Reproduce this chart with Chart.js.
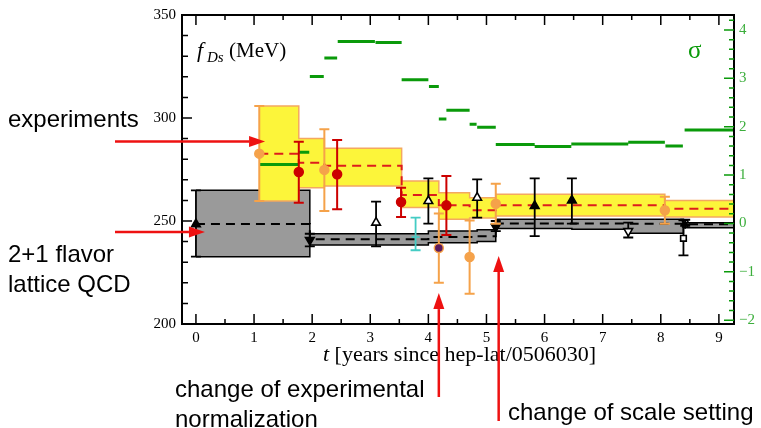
<!DOCTYPE html>
<html>
<head>
<meta charset="utf-8">
<title>f_Ds history</title>
<script src="https://cdn.jsdelivr.net/npm/chart.js@4.4.0/dist/chart.umd.min.js"></script>
<style>
  body { margin: 0; background: #fff; }
  #wrap { position: relative; width: 761px; height: 428px; }
</style>
</head>
<body>
<div id="wrap"><canvas id="myChart"></canvas></div>
<script>

// TICKS
var xTicks = [0, 1, 2, 3, 4, 5, 6, 7, 8, 9];
var yTicks = [200, 250, 300, 350];
var sigmaTicks = [-2, -1, 0, 1, 2, 3, 4];

// LATTICE AVERAGE (grey band), value on [edge_k, edge_k+1]
var latEdges = [0, 1.96, 4.0, 4.84, 5.16, 6.47, 7.44, 8.39, 9.26];
var latMid = [248.5, 241.1, 242.2, 242.6, 248.8, 248.8, 248.7, 248.4];
var latLo  = [232.7, 238.3, 239.5, 240.0, 246.3, 246.0, 244.1, 246.7];
var latHi  = [264.9, 243.8, 245.1, 245.8, 250.8, 250.8, 250.8, 249.2];

// EXPERIMENT AVERAGE (yellow band)
var expEdges = [1.09, 1.77, 2.21, 3.54, 4.18, 4.71, 5.16, 8.07, 9.26];
var expMid = [282.7, 278.3, 276.8, 262.6, 257.6, 255.2, 257.6, 256.0];
var expLo  = [259.7, 266.2, 267.0, 256.5, 250.8, 251.5, 252.4, 251.9];
var expHi  = [305.8, 290.1, 285.3, 269.4, 263.7, 261.3, 263.0, 260.0];

// tension in sigma (green bars, right axis)
var sigStart = [1.10, 1.77, 1.96, 2.21, 2.44, 3.09, 3.54, 4.01, 4.18, 4.31, 4.71, 4.84, 5.16, 5.83, 6.46, 7.44, 8.08, 8.41];
var sigEnd   = [1.77, 1.95, 2.20, 2.43, 3.08, 3.54, 4.00, 4.18, 4.31, 4.71, 4.83, 5.16, 5.83, 6.46, 7.44, 8.07, 8.38, 9.26];
var sigVal   = [1.22, 1.47, 3.04, 3.42, 3.76, 3.74, 2.97, 2.83, 2.16, 2.34, 2.05, 1.99, 1.63, 1.59, 1.64, 1.68, 1.60, 1.93];

// EXPERIMENTS (points + errors)
var expT  = [1.09, 1.77, 2.21, 2.43, 3.53, 4.18, 4.31, 4.71, 5.16, 8.07];
var expF  = [282.7, 273.8, 274.8, 272.7, 259.2, 236.9, 257.6, 232.5, 258.4, 255.2];
var expErrLo = [259.7, 258.9, 254.9, 255.7, 251.9, 220.0, 243.2, 214.7, 248.7, 248.7];
var expErrHi = [305.8, 288.5, 294.5, 289.3, 266.2, 253.7, 271.8, 250.3, 268.1, 261.8];

// LATTICE (points + errors)
var latT  = [0, 1.96, 3.10, 3.78, 4.00, 4.84, 5.16, 5.83, 6.47, 7.44, 8.39, 8.42];
var latF  = [248.5, 240.8, 249.2, 242.2, 259.7, 261.3, 247.1, 257.3, 260.0, 245.1, 241.6, 248.4];
var latErrLo = [232.7, 237.7, 237.7, 235.8, 248.7, 251.6, 245.1, 242.7, 248.7, 242.0, 233.3, 247.7];
var latErrHi = [264.9, 243.8, 259.4, 251.6, 270.7, 270.2, 250.0, 270.7, 270.7, 249.2, 250.3, 250.6];


// colours
var ORANGE = '#f5a24a', RED = '#cc0000', GREEN = '#0a9a0a', YELLOW = '#fcf53a', GREY = '#9a9a9a', CYAN = '#44ccc4';

var expColors = [ORANGE, RED, ORANGE, RED, RED, ORANGE, RED, ORANGE, ORANGE, ORANGE];
var expFill   = [ORANGE, RED, ORANGE, RED, RED, '#5b1a5e', RED, ORANGE, ORANGE, ORANGE];
var latStyles = ['triangle', 'triangle', 'triangle', 'line', 'triangle', 'triangle', 'triangle', 'triangle', 'triangle', 'triangle', 'rect', 'star'];
var latRot    = [0, 180, 0, 0, 0, 0, 180, 0, 0, 180, 0, 0];
var latFill   = ['#000', '#000', '#fff', CYAN, '#fff', '#fff', '#000', '#000', '#000', '#fff', '#fff', '#fff'];
var latColors = ['#000', '#000', '#000', CYAN, '#000', '#000', '#000', '#000', '#000', '#000', '#000', '#000'];


// helpers to turn step values into points
function steps(edges, vals) {
    var pts = [];
    for (var i = 0; i < vals.length; i++) pts.push({ x: edges[i], y: vals[i] });
    pts.push({ x: edges[edges.length - 1], y: vals[vals.length - 1] });
    return pts;
}

function sigmaPoints() {
    var pts = [];
    for (var i = 0; i < sigVal.length; i++) {
        pts.push({ x: sigStart[i], y: sigVal[i] });
        pts.push({ x: sigEnd[i], y: sigVal[i] });
        pts.push({ x: sigEnd[i], y: null });
    }
    return pts;
}

function points(ts, fs) {
    return ts.map(function (t, i) { return { x: t, y: fs[i] }; });
}


// ERROR BARS - drawn just before the points of a dataset
var errorBars = {
    id: 'errorBars',
    beforeDatasetDraw: function (chart, args) {
        var ds = chart.data.datasets[args.index];
        if (!ds.errLo) return;
        var ctx = chart.ctx, xs = chart.scales.x, ys = chart.scales.y;
        ctx.save();
        ctx.lineWidth = ds.errWidth;
        for (var i = 0; i < ds.data.length; i++) {
            var px = xs.getPixelForValue(ds.data[i].x);
            var lo = ys.getPixelForValue(ds.errLo[i]);
            var hi = ys.getPixelForValue(ds.errHi[i]);
            ctx.strokeStyle = ds.errColor[i];
            ctx.beginPath();
            ctx.moveTo(px, lo); ctx.lineTo(px, hi);
            ctx.moveTo(px - 5, lo); ctx.lineTo(px + 5, lo);
            ctx.moveTo(px - 5, hi); ctx.lineTo(px + 5, hi);
            ctx.stroke();
        }
        ctx.restore();
    }
};


// FRAME, INWARD TICKS, LABELS AND RED ARROWS
function arrow(ctx, x1, y1, x2, y2) {
    var a = Math.atan2(y2 - y1, x2 - x1), L = 16, W = 5.5;
    var c = Math.cos(a), s = Math.sin(a);
    ctx.beginPath();
    ctx.moveTo(x1, y1);
    ctx.lineTo(x2 - L * c, y2 - L * s);
    ctx.stroke();
    ctx.beginPath();
    ctx.moveTo(x2, y2);
    ctx.lineTo(x2 - L * c - W * s, y2 - L * s + W * c);
    ctx.lineTo(x2 - L * c + W * s, y2 - L * s - W * c);
    ctx.closePath();
    ctx.fill();
}

var decorations = {
    id: 'decorations',
    afterDraw: function (chart) {
        var ctx = chart.ctx, a = chart.chartArea;
        var xs = chart.scales.x, ys = chart.scales.y, s2 = chart.scales.y2;
        var v, p;
        ctx.save();

        // frame
        ctx.strokeStyle = '#000';
        ctx.lineWidth = 2;
        ctx.strokeRect(a.left, a.top, a.right - a.left, a.bottom - a.top);

        // x ticks top and bottom
        ctx.lineWidth = 1.5;
        ctx.beginPath();
        for (v = 0; v <= 9; v += 0.5) {
            p = xs.getPixelForValue(v);
            var len = (v % 1 === 0) ? 10 : 5;
            ctx.moveTo(p, a.bottom); ctx.lineTo(p, a.bottom - len);
            ctx.moveTo(p, a.top); ctx.lineTo(p, a.top + len);
        }
        // left ticks
        for (v = 200; v <= 350; v += 10) {
            p = ys.getPixelForValue(v);
            ctx.moveTo(a.left, p); ctx.lineTo(a.left + (v % 50 === 0 ? 10 : 6), p);
        }
        ctx.stroke();

        // right (sigma) ticks
        ctx.strokeStyle = GREEN;
        ctx.beginPath();
        for (v = -20; v <= 42; v += 2) {
            p = s2.getPixelForValue(v / 10);
            ctx.moveTo(a.right, p); ctx.lineTo(a.right - (v % 10 === 0 ? 10 : 5), p);
        }
        ctx.stroke();

        // y title f_Ds (MeV)
        ctx.fillStyle = '#000';
        ctx.textBaseline = 'alphabetic';
        ctx.textAlign = 'left';
        ctx.font = 'italic 22px "Liberation Serif"';
        ctx.fillText('f', 197, 57);
        ctx.font = 'italic 15px "Liberation Serif"';
        ctx.fillText('Ds', 207, 62);
        ctx.font = '21px "Liberation Serif"';
        ctx.fillText('(MeV)', 229, 57);

        // sigma
        ctx.fillStyle = GREEN;
        ctx.font = '25px "Liberation Serif"';
        ctx.fillText('\u03c3', 688, 58);

        // x title
        ctx.fillStyle = '#000';
        ctx.font = 'italic 22px "Liberation Serif"';
        ctx.fillText('t', 323, 361);
        var tw = ctx.measureText('t ').width;
        ctx.font = '22px "Liberation Serif"';
        ctx.fillText('[years since hep-lat/0506030]', 323 + tw, 361);

        // annotations
        ctx.font = '24px "Liberation Sans"';
        ctx.fillText('experiments', 8, 127);
        ctx.fillText('2+1 flavor', 8, 262);
        ctx.fillText('lattice QCD', 8, 292);
        ctx.fillText('change of experimental', 175, 397);
        ctx.fillText('normalization', 175, 427);
        ctx.fillText('change of scale setting', 508, 420);

        // red arrows
        ctx.strokeStyle = '#ee1111';
        ctx.fillStyle = '#ee1111';
        ctx.lineWidth = 2.5;
        arrow(ctx, 115, ys.getPixelForValue(288.6), xs.getPixelForValue(1.19), ys.getPixelForValue(288.6));
        arrow(ctx, 115, ys.getPixelForValue(244.7), xs.getPixelForValue(0.155), ys.getPixelForValue(244.7));
        arrow(ctx, xs.getPixelForValue(4.18), 397, xs.getPixelForValue(4.18), ys.getPixelForValue(215.0));
        arrow(ctx, xs.getPixelForValue(5.21), 421, xs.getPixelForValue(5.21), ys.getPixelForValue(233.0));

        ctx.restore();
    }
};


var ctx = document.getElementById('myChart').getContext('2d');

var myChart = new Chart(ctx, {
    type: 'line',
    data: {
        datasets: [
            {   // experiments
                type: 'scatter', order: 1,
                data: points(expT, expF),
                pointStyle: 'circle', pointRadius: 4.5,
                pointBackgroundColor: expFill, pointBorderColor: expColors, pointBorderWidth: 1.5,
                errLo: expErrLo, errHi: expErrHi, errColor: expColors, errWidth: 2
            },
            {   // lattice
                type: 'scatter', order: 2,
                data: points(latT, latF),
                pointStyle: latStyles, pointRotation: latRot,
                pointRadius: [5, 5, 5, 4, 5, 5, 5, 5, 5, 5, 4, 4.5],
                pointBackgroundColor: latFill, pointBorderColor: latColors, pointBorderWidth: 1.6,
                errLo: latErrLo, errHi: latErrHi, errColor: latColors, errWidth: 1.8
            },
            {   // sigma bars
                order: 3, yAxisID: 'y2',
                data: sigmaPoints(),
                borderColor: GREEN, borderWidth: 3, pointRadius: 0, spanGaps: false
            },
            {   // experiment average
                order: 4, data: steps(expEdges, expMid), stepped: 'before',
                borderColor: '#dd1c1c', borderWidth: 2, borderDash: [9, 6], pointRadius: 0
            },
            {   // lattice average
                order: 5, data: steps(latEdges, latMid), stepped: 'before',
                borderColor: '#000', borderWidth: 2, borderDash: [9, 6], pointRadius: 0
            },
            {
                order: 6, data: steps(expEdges, expHi), stepped: 'before',
                borderColor: '#f4a860', borderWidth: 1.5, pointRadius: 0
            },
            {
                order: 6, data: steps(expEdges, expLo), stepped: 'before',
                borderColor: '#f4a860', borderWidth: 1.5, pointRadius: 0,
                fill: '-1', backgroundColor: YELLOW
            },
            {
                order: 7, data: steps(latEdges, latHi), stepped: 'before',
                borderColor: '#000', borderWidth: 1.5, pointRadius: 0
            },
            {
                order: 7, data: steps(latEdges, latLo), stepped: 'before',
                borderColor: '#000', borderWidth: 1.5, pointRadius: 0,
                fill: '-1', backgroundColor: GREY
            }
        ]
    },
    options: {
        responsive: true,
        maintainAspectRatio: false,
        animation: false,
        layout: { padding: { top: 14, left: 0, right: 0, bottom: 0 } },
        plugins: {
            legend: { display: false },
            tooltip: { enabled: false }
        },
        scales: {
            x: {
                type: 'linear', min: -0.24, max: 9.26, position: 'bottom',
                afterBuildTicks: function (s) { s.ticks = xTicks.map(function (v) { return { value: v }; }); },
                afterFit: function (s) { s.height = 104; },
                grid: { display: false, drawTicks: false },
                border: { display: false },
                ticks: { color: '#000', padding: 5, maxRotation: 0, autoSkip: false, font: { family: 'Liberation Serif', size: 15 } }
            },
            y: {
                type: 'linear', min: 200, max: 350, position: 'left',
                afterBuildTicks: function (s) { s.ticks = yTicks.map(function (v) { return { value: v }; }); },
                afterFit: function (s) { s.width = 182; },
                grid: { display: false, drawTicks: false },
                border: { display: false },
                ticks: { color: '#000', padding: 6, font: { family: 'Liberation Serif', size: 15 } }
            },
            y2: {
                type: 'linear', min: -2.08, max: 4.31, position: 'right',
                afterBuildTicks: function (s) { s.ticks = sigmaTicks.map(function (v) { return { value: v }; }); },
                afterFit: function (s) { s.width = 27; },
                grid: { display: false, drawTicks: false },
                border: { display: false },
                ticks: {
                    color: '#3cae3c', padding: 5, font: { family: 'Liberation Serif', size: 15 },
                    callback: function (v) { return v < 0 ? '\u2212' + (-v) : '' + v; }
                }
            }
        }
    },
    plugins: [errorBars, decorations]
});

</script>
</body>
</html>
